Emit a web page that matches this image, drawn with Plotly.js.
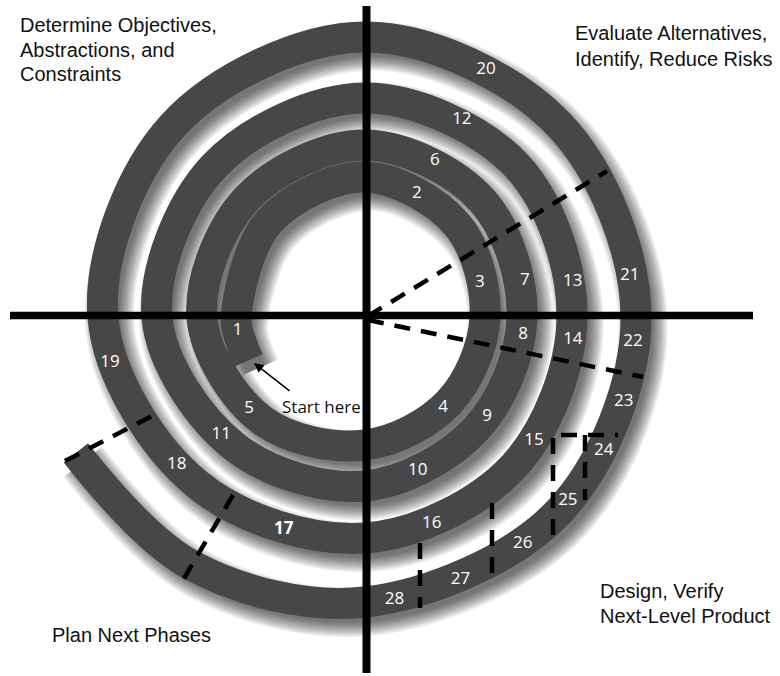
<!DOCTYPE html>
<html><head><meta charset="utf-8">
<script src="https://cdn.plot.ly/plotly-3.0.1.min.js"></script>
<style>html,body{margin:0;padding:0;background:#fff}</style>
</head><body><div id="chart" style="width:780px;height:676px"></div>
<script>
// Spiral centre-line: clockwise angle from the left axis (deg) and radius (px)
const spiralPsi = [-20, -10, 0, 45, 90, 135, 180, 225, 270, 315, 360, 405, 450, 495, 540, 585, 630, 675, 720, 765, 810, 855, 900, 945, 990, 1035, 1080, 1125, 1170, 1215, 1260, 1305, 1350, 1385, 1415];
const spiralR   = [124, 126.5, 129, 136, 141, 131, 120, 119, 127, 145, 163, 168, 173, 166, 157, 157, 168, 183, 208, 214, 220, 215, 207, 210, 220, 236, 262, 272, 281, 274, 271, 274, 284, 302, 319];

// Step labels along the spiral
const stepLabels = ['1','2','3','4','5','6','7','8','9','10','11','12','13','14','15','16','<b>17</b>','18','19','20','21','22','23','24','25','26','27','28'];
const stepPsi = [-5.8, 112.6, 163, 229, 322, 474, 527, 546, 579, 611, 681, 836, 890, 906, 936, 972, 1011, 1042, 1070, 1196, 1251, 1265, 1278, 1289, 1302, 1315, 1330, 1344];
const stepR   = [128, 135, 120, 119, 147, 172, 164, 159, 157, 162, 185, 221, 211, 209, 209, 216, 227, 239, 259, 276, 268, 269, 272, 273, 273, 275, 279, 283];

// Quadrant texts
const quadrantText = ['Determine Objectives,', 'Abstractions, and', 'Constraints', 'Evaluate Alternatives,', 'Identify, Reduce Risks', 'Design, Verify', 'Next-Level Product', 'Plan Next Phases'];
const quadrantX = [18, 18, 18, 573, 573, 598, 598, 50];
const quadrantY = [25, 50, 74, 33, 59, 591, 616, 635];

// Dashed phase boundaries (pixel space)
const dashX = [[368, 607], [368, 643], [233, 183], [65, 152], [420, 420], [492, 492], [553, 553, 618], [585, 585]];
const dashY = [[316, 171], [320, 377], [495, 580], [461, 416], [543, 608], [503, 579], [535, 435, 435], [435, 500]];

const cx = 365, cy = 318;
function toXY(psi, r) {
  const t = (180 - psi) * Math.PI / 180;
  return [cx + r * Math.cos(t), cy - r * Math.sin(t)];
}
const sx = [], sy = [];
spiralPsi.forEach((p, i) => { const q = toXY(p, spiralR[i]); sx.push(q[0]); sy.push(q[1]); });
const lx = [], ly = [];
stepPsi.forEach((p, i) => { const q = toXY(p, stepR[i]); lx.push(q[0]); ly.push(q[1]); });

const traces = [];
const BAND = 31;
// soft drop shadow (stacked translucent strokes, offset down-right)
[49, 45, 41, 37, 33, 29, 25, 21].forEach(w => {
  traces.push({x: sx.map(v => v + 7), y: sy.map(v => v + 9), mode: 'lines', type: 'scatter',
    line: {color: 'rgba(0,0,0,0.09)', width: w, shape: 'spline', smoothing: 1, simplify: false},
    hoverinfo: 'skip', showlegend: false});
});
traces.push({x: sx, y: sy, mode: 'lines', type: 'scatter',
  line: {color: '#474747', width: BAND, shape: 'spline', smoothing: 1, simplify: false},
  hoverinfo: 'skip', showlegend: false});
// axes cross
traces.push({x: [366.5, 366.5], y: [6, 673], mode: 'lines', line: {color: '#000', width: 8}, hoverinfo: 'skip', showlegend: false});
traces.push({x: [10, 753], y: [315.5, 315.5], mode: 'lines', line: {color: '#000', width: 7.5}, hoverinfo: 'skip', showlegend: false});
// dashed boundaries
dashX.forEach((xs, i) => {
  traces.push({x: xs, y: dashY[i], mode: 'lines', line: {color: '#000', width: 4.5, dash: '16px,11px'}, hoverinfo: 'skip', showlegend: false});
});
// step labels
traces.push({x: lx, y: ly, mode: 'text', text: stepLabels, textposition: 'middle center',
  textfont: {family: 'Open Sans, sans-serif', size: 17, color: '#fff'}, hoverinfo: 'skip', showlegend: false});

const annotations = quadrantText.map((t, i) => ({
  x: quadrantX[i], y: quadrantY[i], xref: 'x', yref: 'y', text: t, showarrow: false,
  xanchor: 'left', yanchor: 'middle', font: {family: 'Liberation Sans, Arial, sans-serif', size: 20, color: '#111'}
}));
annotations.push({x: 321, y: 406, xref: 'x', yref: 'y', text: 'Start here', showarrow: false,
  xanchor: 'center', yanchor: 'middle', font: {family: 'Open Sans, sans-serif', size: 17, color: '#111'}});
annotations.push({x: 254, y: 363, xref: 'x', yref: 'y', ax: 291, ay: 392, axref: 'x', ayref: 'y',
  text: '', showarrow: true, arrowhead: 2, arrowsize: 1.2, arrowwidth: 1.6, arrowcolor: '#000'});

const layout = {
  width: 780, height: 676, margin: {l: 0, r: 0, t: 0, b: 0},
  paper_bgcolor: '#fff', plot_bgcolor: '#fff',
  xaxis: {range: [0, 780], visible: false, fixedrange: true},
  yaxis: {range: [676, 0], visible: false, fixedrange: true},
  annotations: annotations, showlegend: false
};
Plotly.newPlot('chart', traces, layout, {displayModeBar: false, staticPlot: true});
</script></body></html>
